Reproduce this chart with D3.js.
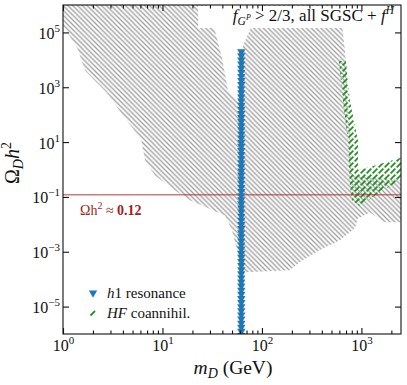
<!DOCTYPE html>
<html>
<head>
<meta charset="utf-8">
<script src="https://cdn.jsdelivr.net/npm/d3@7"></script>
<style>
body { margin: 0; background: #fff; }
svg { display: block; }
text { font-family: "Liberation Serif", serif; fill: #111; }
</style>
</head>
<body>
<div id="page"></div>
<script>
// data
// outline of the scanned region, m_D in GeV and Omega h^2
const scan_mass = [1, 28, 33.7, 39.6, 45.5, 57.4, 64.4, 79.3, 91, 608, 683, 766, 803, 1217, 2495, 2495, 1722, 1217, 923, 860, 608, 383, 241, 191, 69, 60, 56, 50, 42.5, 18.9, 13.4, 8.4, 6.7, 6.1, 4.2, 2.8, 1.66, 1.4, 1];
const scan_omega = [1e6, 1e6, 1.15e5, 1.2e4, 760, 330, 3.3e4, 1.8e5, 1e6, 1e6, 2.1e4, 27, 0.62, 0.56, 0.41, 0.012, 0.012, 0.027, 0.0165, 0.0072, 0.0026, 0.00115, 4.2e-4, 2.1e-4, 1.8e-4, 4.2e-4, 1.15e-3, 6.1e-3, 0.021, 0.075, 0.17, 0.61, 2.1, 13, 73, 590, 4100, 2.6e4, 1.8e5];

// HF coannihilation band
const hf_mass = [594, 699, 766, 923, 923, 1368, 2495, 2495, 1535, 966, 803, 766, 731, 652];
const hf_omega = [9.3e3, 9.3e3, 325, 11.5, 0.93, 1.4, 2.7, 0.41, 0.15, 0.046, 0.076, 0.27, 11.5, 325];

// h1 resonance points (log10 of Omega h^2)
const h1_mass = 62;
const h1_log_omega = [4.3, 4.15, 4.0, 3.85, 3.7, 3.55, 3.4, 3.25, 3.1, 2.95, 2.8, 2.65, 2.5, 2.35, 2.2, 2.05, 1.9, 1.75, 1.6, 1.45, 1.3, 1.15, 1.0, 0.85, 0.7, 0.55, 0.4, 0.25, 0.1, -0.05, -0.2, -0.35, -0.5, -0.65, -0.8, -0.95, -1.1, -1.25, -1.4, -1.55, -1.7, -1.85, -2.0, -2.15, -2.3, -2.45, -2.6, -2.75, -2.9, -3.05, -3.2, -3.35, -3.5, -3.65, -3.8, -3.95, -4.1, -4.25, -4.4, -4.55, -4.7, -4.85, -5.0, -5.15, -5.3, -5.45, -5.6, -5.75, -5.9, -6.05];

const relic_omega = 0.12;

// ticks
const x_major = [1, 10, 100, 1000];
const x_minor = [2, 3, 4, 5, 6, 7, 8, 9, 20, 30, 40, 50, 60, 70, 80, 90, 200, 300, 400, 500, 600, 700, 800, 900, 2000];
const x_exp = ["0", "1", "2", "3"];
const y_major = [1e-5, 1e-3, 1e-1, 1e1, 1e3, 1e5];
const y_exp = ["\u22125", "\u22123", "\u22121", "1", "3", "5"];

// layout
const W = 407, H = 385;
const margin = { left: 63, right: 6, top: 5, bottom: 51 };

const svg = d3.select("#page").append("svg")
    .attr("width", W)
    .attr("height", H);

const x = d3.scaleLog().domain([1, 2500]).range([margin.left, W - margin.right]);
const y = d3.scaleLog().domain([1e-6, 1e6]).range([H - margin.bottom, margin.top]);

const defs = svg.append("defs");

// hatches
const hs = 4.8;
const gray_hatch = defs.append("pattern")
    .attr("id", "gray-hatch")
    .attr("patternUnits", "userSpaceOnUse")
    .attr("width", hs).attr("height", hs);
gray_hatch.append("path")
    .attr("d", `M-1,-1 L${hs + 1},${hs + 1} M-1,${hs - 1} L1,${hs + 1} M${hs - 1},-1 L${hs + 1},1`)
    .attr("stroke", "#9c9c9c")
    .attr("stroke-width", 1.25);

const green_hatch = defs.append("pattern")
    .attr("id", "green-hatch")
    .attr("patternUnits", "userSpaceOnUse")
    .attr("width", 6).attr("height", 6);
green_hatch.append("path")
    .attr("d", "M0.6,5.4 L5.4,0.6")
    .attr("stroke", "#229122")
    .attr("stroke-width", 1.8);

defs.append("clipPath").attr("id", "plot-clip")
    .append("rect")
    .attr("x", margin.left).attr("y", margin.top)
    .attr("width", W - margin.left - margin.right)
    .attr("height", H - margin.top - margin.bottom);

const plot = svg.append("g").attr("clip-path", "url(#plot-clip)");

const area_line = d3.line()
    .x(d => x(d[0]))
    .y(d => y(d[1]));

// scanned region
plot.append("path")
    .datum(d3.zip(scan_mass, scan_omega))
    .attr("d", d => area_line(d) + "Z")
    .attr("fill", "url(#gray-hatch)");

// HF coannihilation
plot.append("path")
    .datum(d3.zip(hf_mass, hf_omega))
    .attr("d", d => area_line(d) + "Z")
    .attr("fill", "url(#green-hatch)");

// relic line
plot.append("line")
    .attr("x1", margin.left).attr("x2", W - margin.right)
    .attr("y1", y(relic_omega)).attr("y2", y(relic_omega))
    .attr("stroke", "#b22222")
    .attr("stroke-opacity", 0.6)
    .attr("stroke-width", 1.5);

// h1 resonance markers
const tri = d3.symbol().type(d3.symbolTriangle).size(30);
plot.selectAll(".h1")
    .data(h1_log_omega)
    .join("path")
    .attr("class", "h1")
    .attr("d", tri)
    .attr("transform", d => `translate(${x(h1_mass)},${y(Math.pow(10, d))}) rotate(180)`)
    .attr("fill", "#1f77b4");

// relic label
const relic_label = svg.append("text")
    .attr("x", 80)
    .attr("y", y(relic_omega) + 20)
    .attr("font-size", 14)
    .style("fill", "#a01e1e");
relic_label.append("tspan").text("\u03A9h");
relic_label.append("tspan").attr("font-size", 10).attr("dy", -6).text("2");
relic_label.append("tspan").attr("dy", 6).text(" \u2248 ");
relic_label.append("tspan").attr("font-weight", "bold").text("0.12");

// title box
svg.append("rect")
    .attr("x", 198).attr("y", 6)
    .attr("width", 198).attr("height", 22)
    .attr("fill", "#fff");
const title = svg.append("text")
    .attr("x", 394)
    .attr("y", 21)
    .attr("text-anchor", "end")
    .attr("font-size", 17);
title.append("tspan").attr("font-style", "italic").text("f");
title.append("tspan").attr("font-style", "italic").attr("font-size", 11.5).attr("dy", 4).text("G");
title.append("tspan").attr("font-style", "italic").attr("font-size", 8).attr("dy", -5).text("P");
title.append("tspan").attr("dy", 1).text(" > 2/3, all SGSC + ");
title.append("tspan").attr("font-style", "italic").text("f");
title.append("tspan").attr("font-style", "italic").attr("font-size", 11.5).attr("dy", -7).text("H");

// legend
const legend = svg.append("g");
legend.append("path")
    .attr("d", tri)
    .attr("transform", "translate(93,293) rotate(180)")
    .attr("fill", "#1f77b4");
legend.append("path")
    .attr("d", "M90.5,315.5 L95,311")
    .attr("stroke", "#229122")
    .attr("stroke-width", 1.8);
const leg1 = legend.append("text").attr("x", 107).attr("y", 298).attr("font-size", 15);
leg1.append("tspan").attr("font-style", "italic").text("h");
leg1.append("tspan").text("1 resonance");
const leg2 = legend.append("text").attr("x", 107).attr("y", 318).attr("font-size", 15);
leg2.append("tspan").attr("font-style", "italic").text("HF");
leg2.append("tspan").text(" coannihil.");

// axes
const x0 = margin.left, x1 = W - margin.right;
const y0 = H - margin.bottom, y1 = margin.top;

function style_axis(g) {
    g.select(".domain").remove();
    g.selectAll(".tick line").attr("stroke", "#111").attr("stroke-width", 1.1);
}

svg.append("g").attr("transform", `translate(0,${y0})`)
    .call(d3.axisBottom(x).tickValues(x_minor).tickSize(-3.5).tickFormat(""))
    .call(style_axis);
svg.append("g").attr("transform", `translate(0,${y1})`)
    .call(d3.axisTop(x).tickValues(x_minor).tickSize(-3.5).tickFormat(""))
    .call(style_axis);
svg.append("g").attr("transform", `translate(0,${y1})`)
    .call(d3.axisTop(x).tickValues(x_major).tickSize(-6).tickFormat(""))
    .call(style_axis);
svg.append("g").attr("transform", `translate(${x1},0)`)
    .call(d3.axisRight(y).tickValues(y_major).tickSize(-6).tickFormat(""))
    .call(style_axis);

const x_axis = svg.append("g").attr("transform", `translate(0,${y0})`)
    .call(d3.axisBottom(x).tickValues(x_major).tickSize(-6).tickPadding(0).tickFormat(""))
    .call(style_axis);
x_axis.selectAll(".tick text").remove();
x_axis.selectAll(".tick").append("text")
    .attr("y", 17)
    .attr("text-anchor", "middle")
    .attr("font-size", 16)
    .each(function (d, i) {
        const t = d3.select(this);
        t.append("tspan").text("10");
        t.append("tspan").attr("font-size", 11).attr("dy", -7).text(x_exp[i]);
    });

const y_axis = svg.append("g").attr("transform", `translate(${x0},0)`)
    .call(d3.axisLeft(y).tickValues(y_major).tickSize(-6).tickFormat(""))
    .call(style_axis);
y_axis.selectAll(".tick text").remove();
y_axis.selectAll(".tick").append("text")
    .attr("x", -3)
    .attr("y", 6)
    .attr("text-anchor", "end")
    .attr("font-size", 16)
    .each(function (d, i) {
        const t = d3.select(this);
        t.append("tspan").text("10");
        t.append("tspan").attr("font-size", 11).attr("dy", -7).text(y_exp[i]);
    });

// frame
svg.append("rect")
    .attr("x", x0).attr("y", y1)
    .attr("width", x1 - x0).attr("height", y0 - y1)
    .attr("fill", "none")
    .attr("stroke", "#111")
    .attr("stroke-width", 1.1);

// axis labels
const x_label = svg.append("text")
    .attr("x", 233)
    .attr("y", 374)
    .attr("text-anchor", "middle")
    .attr("font-size", 19.5);
x_label.append("tspan").attr("font-style", "italic").text("m");
x_label.append("tspan").attr("font-style", "italic").attr("font-size", 14).attr("dy", 4).text("D");
x_label.append("tspan").attr("dy", -4).text(" (GeV)");

const y_label = svg.append("text")
    .attr("transform", "translate(19,163) rotate(-90)")
    .attr("text-anchor", "middle")
    .attr("font-size", 20);
y_label.append("tspan").text("\u03A9");
y_label.append("tspan").attr("font-style", "italic").attr("font-size", 14).attr("dy", 4).text("D");
y_label.append("tspan").attr("font-style", "italic").attr("dy", -4).text("h");
y_label.append("tspan").attr("font-size", 14).attr("dy", -8).text("2");
</script>
</body>
</html>
